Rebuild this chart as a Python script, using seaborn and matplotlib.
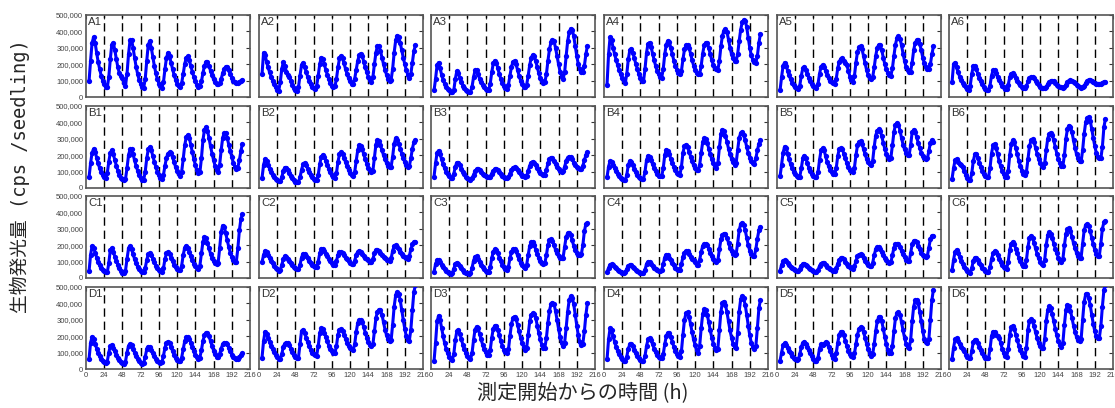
import numpy as np
import pandas as pd
import matplotlib
matplotlib.use("Agg")
import matplotlib.pyplot as plt
import seaborn as sns

# hours after start of measurement (sampled every 2 h)
hours = list(range(4, 207, 2))

# bioluminescence per seedling, in thousands of cps
A1 = [95, 220, 330, 365, 330, 270, 215, 170, 130, 100, 78, 62,
      58, 120, 230, 320, 330, 285, 230, 180, 145, 128, 115, 85,
      68, 140, 260, 345, 350, 300, 240, 185, 140, 105, 80, 62,
      57, 110, 220, 320, 340, 300, 245, 190, 145, 110, 82, 65,
      57, 90, 170, 240, 270, 250, 210, 170, 135, 105, 82, 67,
      61, 85, 140, 200, 240, 247, 225, 190, 155, 122, 95, 75,
      64, 65, 95, 145, 190, 212, 212, 190, 160, 132, 108, 92,
      82, 78, 85, 110, 145, 172, 184, 180, 162, 140, 118, 100,
      90, 85, 84, 90, 98, 105]
A2 = [140, 270, 255, 215, 180, 150, 125, 100, 78, 58, 45, 38,
      90, 170, 212, 190, 155, 135, 125, 100, 75, 55, 40, 34,
      60, 130, 195, 208, 185, 155, 125, 100, 78, 62, 52, 47,
      70, 130, 200, 240, 230, 200, 165, 135, 108, 85, 68, 58,
      65, 110, 180, 235, 250, 235, 205, 170, 140, 115, 95, 82,
      80, 110, 165, 220, 255, 265, 250, 215, 180, 150, 125, 102,
      90, 120, 200, 270, 312, 310, 280, 240, 200, 165, 135, 112,
      100, 105, 170, 270, 345, 375, 365, 330, 285, 240, 200, 165,
      135, 118, 140, 210, 280, 315]
A3 = [40, 110, 195, 210, 175, 135, 105, 80, 62, 50, 40, 33,
      28, 40, 110, 158, 145, 115, 90, 70, 55, 43, 36, 32,
      31, 60, 120, 162, 165, 140, 112, 90, 72, 58, 50, 45,
      43, 80, 150, 205, 222, 210, 175, 140, 110, 85, 65, 52,
      47, 75, 130, 185, 215, 220, 200, 165, 130, 100, 78, 64,
      58, 75, 130, 195, 240, 256, 250, 220, 180, 145, 115, 95,
      85, 90, 140, 220, 290, 335, 348, 340, 300, 250, 200, 155,
      125, 112, 150, 250, 340, 395, 417, 410, 370, 310, 250, 200,
      170, 155, 153, 190, 260, 312]
A4 = [75, 260, 365, 345, 300, 260, 225, 195, 165, 138, 115, 95,
      85, 140, 230, 285, 295, 270, 235, 200, 170, 140, 118, 100,
      95, 170, 270, 325, 332, 305, 265, 225, 190, 160, 138, 122,
      118, 170, 260, 320, 342, 335, 300, 260, 222, 190, 165, 148,
      140, 160, 230, 290, 315, 318, 300, 265, 225, 192, 165, 148,
      140, 140, 190, 265, 315, 332, 330, 300, 260, 225, 195, 178,
      168, 166, 220, 310, 375, 405, 414, 395, 350, 300, 260, 235,
      222, 220, 260, 340, 410, 455, 470, 465, 425, 360, 300, 255,
      225, 212, 210, 250, 330, 385]
A5 = [40, 120, 190, 210, 190, 160, 132, 108, 88, 72, 60, 52,
      48, 70, 130, 175, 184, 165, 140, 118, 98, 82, 70, 62,
      57, 80, 140, 185, 196, 185, 160, 135, 115, 100, 90, 85,
      82, 110, 175, 215, 232, 235, 220, 210, 195, 160, 125, 102,
      93, 130, 210, 275, 302, 308, 290, 250, 205, 165, 135, 115,
      108, 120, 180, 250, 300, 317, 315, 285, 240, 200, 168, 145,
      132, 130, 175, 250, 320, 360, 369, 355, 315, 265, 220, 185,
      162, 150, 155, 210, 285, 330, 345, 347, 325, 285, 240, 205,
      182, 172, 170, 200, 260, 308]
A6 = [90, 200, 210, 180, 150, 125, 105, 88, 72, 60, 50, 44,
      70, 140, 190, 192, 170, 140, 115, 95, 78, 62, 50, 40,
      40, 70, 130, 162, 162, 145, 122, 102, 85, 70, 58, 50,
      48, 75, 120, 142, 145, 135, 118, 100, 85, 72, 62, 55,
      52, 65, 95, 115, 122, 124, 115, 100, 86, 74, 64, 57,
      52, 52, 62, 78, 90, 96, 98, 95, 86, 76, 68, 62,
      58, 57, 62, 75, 90, 99, 102, 100, 93, 84, 74, 66,
      60, 57, 58, 68, 84, 97, 103, 104, 100, 92, 84, 80,
      78, 77, 78, 84, 90, 93]
B1 = [65, 150, 215, 238, 220, 185, 150, 120, 97, 80, 68, 62,
      90, 160, 215, 229, 205, 170, 135, 105, 80, 62, 52, 46,
      55, 120, 200, 235, 235, 205, 168, 135, 105, 80, 62, 50,
      50, 100, 180, 235, 248, 230, 195, 160, 128, 100, 78, 62,
      56, 80, 135, 185, 210, 218, 212, 188, 158, 128, 102, 85,
      76, 100, 175, 260, 310, 323, 305, 265, 220, 178, 140, 110,
      90, 95, 180, 290, 355, 370, 350, 305, 255, 210, 170, 135,
      110, 97, 140, 230, 305, 335, 333, 305, 265, 225, 190, 155,
      130, 117, 125, 170, 225, 270]
B2 = [62, 140, 177, 165, 140, 118, 98, 82, 68, 56, 47, 41,
      40, 65, 105, 125, 125, 108, 90, 73, 58, 46, 38, 35,
      38, 65, 110, 145, 152, 140, 118, 98, 80, 65, 55, 48,
      46, 80, 145, 190, 202, 190, 165, 140, 115, 95, 78, 66,
      62, 90, 160, 205, 218, 208, 185, 158, 132, 110, 92, 80,
      76, 95, 165, 230, 262, 258, 235, 205, 175, 148, 125, 108,
      98, 105, 185, 265, 294, 285, 260, 230, 200, 175, 152, 137,
      128, 130, 190, 270, 303, 295, 270, 240, 210, 182, 158, 138,
      128, 135, 180, 240, 280, 292]
B3 = [70, 150, 215, 228, 205, 175, 145, 120, 100, 84, 72, 63,
      60, 85, 130, 155, 155, 138, 118, 100, 84, 70, 59, 52,
      49, 58, 80, 102, 114, 115, 108, 98, 88, 78, 71, 67,
      65, 70, 88, 105, 114, 116, 110, 100, 88, 76, 67, 61,
      59, 66, 88, 110, 123, 127, 122, 110, 96, 84, 76, 71,
      69, 75, 105, 135, 155, 161, 155, 138, 120, 104, 92, 84,
      80, 82, 110, 150, 175, 184, 180, 165, 145, 127, 113, 105,
      100, 102, 130, 165, 185, 192, 190, 175, 155, 138, 126, 120,
      117, 117, 135, 170, 200, 218]
B4 = [66, 130, 165, 160, 140, 120, 102, 86, 72, 61, 53, 47,
      46, 80, 140, 166, 160, 140, 118, 98, 82, 68, 60, 56,
      56, 100, 170, 197, 192, 170, 145, 122, 102, 86, 76, 72,
      72, 120, 200, 234, 228, 205, 178, 152, 128, 107, 92, 83,
      81, 130, 215, 255, 264, 250, 222, 192, 163, 138, 120, 110,
      107, 140, 215, 280, 303, 300, 275, 240, 205, 175, 150, 132,
      122, 150, 250, 330, 356, 350, 320, 280, 240, 205, 178, 157,
      143, 150, 230, 305, 335, 340, 325, 290, 250, 215, 185, 162,
      150, 148, 180, 230, 270, 292]
B5 = [72, 140, 215, 252, 245, 210, 175, 145, 120, 100, 85, 74,
      67, 68, 120, 180, 198, 180, 150, 125, 104, 88, 76, 68,
      65, 95, 170, 230, 243, 230, 195, 160, 132, 110, 96, 88,
      86, 120, 195, 238, 243, 235, 210, 180, 152, 128, 112, 103,
      100, 125, 200, 260, 282, 284, 268, 238, 205, 178, 158, 145,
      138, 165, 250, 320, 350, 357, 348, 315, 275, 238, 210, 188,
      175, 185, 260, 340, 385, 396, 385, 350, 305, 265, 235, 215,
      202, 200, 260, 340, 355, 340, 310, 275, 245, 215, 195, 182,
      175, 180, 225, 275, 290, 280]
B6 = [56, 120, 170, 176, 160, 145, 138, 128, 105, 80, 62, 50,
      46, 90, 165, 205, 207, 185, 155, 128, 105, 87, 74, 67,
      65, 120, 210, 260, 268, 245, 205, 165, 132, 105, 85, 70,
      66, 105, 200, 270, 290, 280, 245, 205, 165, 132, 106, 88,
      81, 100, 175, 255, 290, 296, 280, 245, 210, 178, 152, 135,
      128, 150, 230, 300, 330, 337, 325, 290, 250, 210, 175, 150,
      136, 135, 200, 300, 360, 381, 375, 340, 290, 245, 205, 180,
      165, 162, 230, 330, 400, 428, 433, 410, 360, 305, 255, 215,
      192, 180, 180, 250, 370, 422]
C1 = [40, 140, 195, 185, 155, 125, 100, 80, 63, 50, 41, 35,
      34, 90, 170, 182, 160, 130, 103, 80, 60, 45, 33, 28,
      45, 115, 180, 193, 175, 145, 115, 90, 70, 53, 42, 35,
      35, 60, 110, 145, 152, 140, 118, 95, 75, 60, 48, 40,
      37, 60, 115, 150, 158, 148, 125, 102, 82, 67, 56, 49,
      47, 75, 140, 185, 196, 185, 160, 132, 108, 88, 74, 63,
      57, 75, 150, 220, 250, 245, 215, 180, 148, 122, 103, 90,
      84, 90, 180, 280, 320, 312, 275, 230, 190, 155, 128, 110,
      100, 100, 180, 290, 360, 388]
C2 = [98, 140, 165, 158, 140, 122, 106, 90, 76, 63, 52, 44,
      50, 80, 115, 132, 130, 118, 104, 91, 79, 68, 59, 53,
      52, 80, 125, 148, 147, 135, 120, 106, 93, 81, 71, 65,
      66, 100, 150, 178, 178, 165, 148, 132, 117, 103, 91, 81,
      80, 105, 140, 157, 158, 150, 138, 125, 113, 102, 93, 86,
      85, 105, 140, 160, 165, 160, 148, 136, 125, 115, 107, 100,
      98, 115, 150, 170, 172, 165, 152, 140, 130, 120, 112, 107,
      104, 120, 165, 195, 200, 190, 175, 160, 147, 135, 126, 120,
      118, 135, 175, 205, 218, 222]
C3 = [38, 85, 110, 110, 95, 80, 66, 54, 44, 36, 30, 27,
      30, 55, 85, 94, 88, 74, 60, 48, 39, 32, 28, 27,
      30, 60, 105, 130, 132, 118, 100, 82, 66, 53, 44, 38,
      37, 65, 120, 160, 175, 172, 150, 125, 102, 82, 65, 53,
      47, 70, 120, 160, 175, 176, 162, 138, 114, 93, 77, 66,
      61, 80, 140, 195, 218, 218, 200, 172, 145, 122, 105, 93,
      88, 92, 140, 200, 230, 235, 225, 200, 172, 150, 133, 123,
      119, 125, 190, 250, 272, 276, 262, 230, 195, 168, 150, 142,
      139, 145, 200, 285, 330, 333]
C4 = [38, 60, 80, 84, 77, 68, 58, 49, 41, 35, 30, 28,
      35, 55, 72, 78, 78, 70, 60, 50, 41, 34, 30, 28,
      28, 50, 85, 98, 96, 86, 74, 64, 55, 49, 45, 43,
      50, 85, 125, 142, 140, 125, 108, 92, 77, 64, 54, 48,
      50, 85, 130, 155, 163, 162, 148, 130, 115, 108, 100, 82,
      80, 110, 160, 195, 207, 210, 200, 178, 155, 135, 117, 105,
      99, 110, 175, 235, 262, 270, 268, 245, 215, 185, 162, 147,
      140, 145, 210, 290, 328, 337, 325, 290, 245, 200, 165, 145,
      135, 134, 175, 240, 290, 312]
C5 = [44, 80, 102, 108, 102, 92, 80, 69, 60, 52, 47, 44,
      44, 55, 74, 86, 88, 82, 72, 62, 53, 46, 41, 38,
      37, 50, 72, 88, 94, 90, 80, 70, 60, 52, 47, 44,
      43, 58, 88, 110, 120, 122, 114, 100, 86, 74, 65, 59,
      57, 72, 105, 132, 143, 145, 138, 122, 105, 90, 80, 74,
      71, 90, 140, 175, 188, 189, 178, 160, 140, 122, 107, 95,
      89, 95, 140, 185, 205, 210, 205, 188, 166, 144, 126, 112,
      105, 103, 150, 205, 225, 227, 218, 198, 175, 155, 140, 132,
      129, 135, 185, 235, 255, 258]
C6 = [48, 110, 160, 172, 155, 128, 104, 84, 67, 53, 42, 35,
      32, 60, 105, 123, 122, 108, 92, 77, 63, 52, 44, 39,
      37, 65, 115, 150, 163, 160, 140, 118, 98, 80, 67, 60,
      57, 100, 170, 210, 220, 205, 178, 150, 125, 103, 86, 75,
      71, 110, 190, 245, 257, 245, 215, 180, 148, 120, 100, 85,
      79, 110, 200, 260, 278, 270, 245, 210, 178, 150, 125, 108,
      100, 115, 200, 270, 298, 302, 285, 250, 212, 180, 153, 132,
      120, 125, 210, 290, 322, 329, 318, 285, 245, 205, 172, 148,
      136, 135, 210, 300, 340, 349]
D1 = [60, 160, 197, 185, 155, 125, 100, 80, 64, 51, 42, 36,
      45, 100, 140, 146, 130, 108, 88, 70, 55, 43, 35, 32,
      45, 100, 140, 153, 145, 122, 100, 80, 63, 48, 37, 32,
      38, 75, 120, 137, 135, 118, 98, 80, 64, 50, 40, 35,
      42, 80, 130, 160, 167, 158, 135, 110, 88, 70, 56, 47,
      46, 70, 120, 170, 193, 198, 185, 160, 132, 108, 88, 72,
      62, 70, 115, 170, 205, 217, 218, 200, 170, 140, 112, 90,
      76, 72, 90, 125, 150, 160, 161, 150, 130, 108, 88, 73,
      65, 61, 62, 72, 85, 96]
D2 = [70, 170, 228, 215, 190, 165, 142, 122, 104, 88, 75, 64,
      62, 90, 135, 155, 161, 158, 145, 125, 105, 88, 76, 70,
      70, 150, 230, 238, 220, 192, 165, 140, 118, 100, 90, 84,
      82, 140, 220, 248, 245, 222, 195, 168, 143, 122, 107, 98,
      96, 140, 210, 240, 243, 232, 210, 185, 160, 140, 127, 119,
      116, 150, 225, 280, 298, 300, 285, 255, 222, 190, 165, 147,
      138, 150, 230, 310, 350, 360, 358, 330, 285, 240, 205, 180,
      168, 175, 270, 380, 450, 469, 460, 420, 360, 300, 245, 200,
      178, 173, 240, 360, 470, 510]
D3 = [48, 160, 290, 325, 300, 250, 200, 158, 122, 95, 75, 60,
      56, 90, 175, 230, 237, 215, 180, 148, 120, 97, 78, 65,
      60, 95, 175, 240, 258, 248, 215, 180, 148, 122, 102, 88,
      83, 115, 190, 245, 263, 264, 240, 205, 170, 140, 117, 102,
      97, 120, 200, 275, 312, 320, 305, 270, 230, 192, 160, 135,
      118, 130, 210, 290, 330, 340, 338, 310, 265, 220, 180, 148,
      130, 130, 190, 280, 355, 395, 405, 395, 355, 300, 245, 198,
      160, 140, 160, 250, 350, 420, 443, 435, 395, 330, 265, 205,
      165, 148, 155, 230, 330, 402]
D4 = [58, 180, 248, 235, 200, 165, 135, 110, 90, 73, 60, 50,
      46, 75, 125, 150, 152, 138, 118, 98, 80, 65, 55, 50,
      49, 80, 140, 180, 188, 175, 150, 125, 103, 85, 72, 66,
      65, 90, 150, 200, 220, 220, 195, 165, 135, 110, 92, 80,
      76, 110, 210, 300, 340, 345, 320, 275, 225, 180, 145, 115,
      98, 140, 250, 335, 363, 360, 330, 285, 235, 190, 155, 130,
      118, 125, 240, 350, 405, 411, 390, 345, 290, 235, 190, 155,
      135, 128, 220, 350, 425, 443, 430, 390, 330, 265, 205, 160,
      132, 121, 140, 250, 370, 420]
D5 = [50, 100, 145, 157, 148, 130, 112, 96, 82, 70, 62, 56,
      58, 90, 135, 160, 166, 155, 135, 115, 96, 78, 62, 50,
      46, 70, 125, 150, 148, 155, 165, 160, 135, 108, 85, 68,
      62, 95, 160, 210, 228, 228, 205, 172, 140, 112, 92, 80,
      76, 95, 150, 210, 245, 255, 250, 225, 190, 155, 122, 95,
      78, 90, 150, 230, 290, 318, 318, 290, 245, 195, 150, 115,
      95, 95, 140, 230, 310, 342, 345, 330, 285, 235, 190, 155,
      135, 128, 175, 290, 380, 418, 422, 400, 350, 290, 230, 185,
      165, 158, 180, 300, 420, 484]
D6 = [62, 130, 180, 187, 170, 150, 135, 125, 108, 88, 74, 66,
      66, 110, 165, 178, 176, 158, 135, 113, 95, 80, 70, 66,
      66, 120, 200, 228, 225, 210, 200, 192, 160, 125, 98, 80,
      76, 120, 210, 255, 262, 245, 210, 175, 142, 115, 95, 82,
      76, 130, 240, 295, 304, 290, 260, 225, 190, 160, 140, 130,
      128, 180, 290, 360, 382, 370, 335, 290, 245, 205, 170, 145,
      134, 160, 270, 360, 392, 385, 355, 310, 265, 225, 195, 175,
      168, 180, 300, 410, 455, 458, 435, 390, 330, 275, 230, 200,
      190, 190, 260, 380, 480, 515]

row_names = ["A", "B", "C", "D"]
panels = {
    "A1": A1, "A2": A2, "A3": A3, "A4": A4, "A5": A5, "A6": A6,
    "B1": B1, "B2": B2, "B3": B3, "B4": B4, "B5": B5, "B6": B6,
    "C1": C1, "C2": C2, "C3": C3, "C4": C4, "C5": C5, "C6": C6,
    "D1": D1, "D2": D2, "D3": D3, "D4": D4, "D5": D5, "D6": D6,
}
x_ticks = list(range(0, 217, 24))
dash_hours = list(range(24, 193, 24))
y_ticks = [0, 100000, 200000, 300000, 400000, 500000]

sns.set_style("white")
plt.rcParams["font.family"] = ["Liberation Sans", "DejaVu Sans"]

W, H = 1115, 408
fig = plt.figure(figsize=(W / 100, H / 100), dpi=100)

col_left = [86, 259, 431, 604, 777, 949]
row_top = [15, 106, 196, 287]
pw, ph = 164, 82

for r, rn in enumerate(row_names):
    for c in range(6):
        name = f"{rn}{c + 1}"
        ax = fig.add_axes([col_left[c] / W, (H - row_top[r] - ph) / H, pw / W, ph / H])
        df = pd.DataFrame({"h": hours, "v": np.array(panels[name]) * 1000})
        for d in dash_hours:
            ax.axvline(d, color="black", linewidth=1.0, linestyle=(0, (6, 3.5)), zorder=1)
        sns.lineplot(data=df, x="h", y="v", ax=ax, color="#0000ff", linewidth=2.2,
                     marker="o", markersize=3.8, markeredgewidth=0, errorbar=None, zorder=3)
        ax.set_xlim(0, 216)
        ax.set_ylim(0, 500000)
        ax.set_xticks(x_ticks)
        ax.set_yticks(y_ticks)
        ax.tick_params(direction="in", length=3, width=0.8, color="#333333",
                       labelsize=5.5, labelcolor="#444444", pad=2,
                       top=True, right=True)
        if c == 0:
            ax.set_yticklabels([f"{v:,}" for v in y_ticks])
        else:
            ax.set_yticklabels([])
        if r == 3:
            ax.set_xticklabels([str(v) for v in x_ticks])
        else:
            ax.set_xticklabels([])
        ax.set_xlabel("")
        ax.set_ylabel("")
        for s in ax.spines.values():
            s.set_color("#555555")
            s.set_linewidth(1.2)
        ax.text(0.012, 0.975, name, transform=ax.transAxes, ha="left", va="top",
                fontsize=8.2, color="#333333")

fig.text(20 / W, 1 - 176 / H, "生物発光量 (cps /seedling)", rotation=90,
         ha="center", va="center", fontsize=13.5,
         family=["DejaVu Sans Mono", "Noto Sans CJK JP"])
fig.text(583 / W, 1 - 394 / H, "測定開始からの時間 (h)", ha="center", va="center",
         fontsize=14.5, family=["Noto Sans CJK JP", "DejaVu Sans"])

fig.savefig("out.png", dpi=100)
